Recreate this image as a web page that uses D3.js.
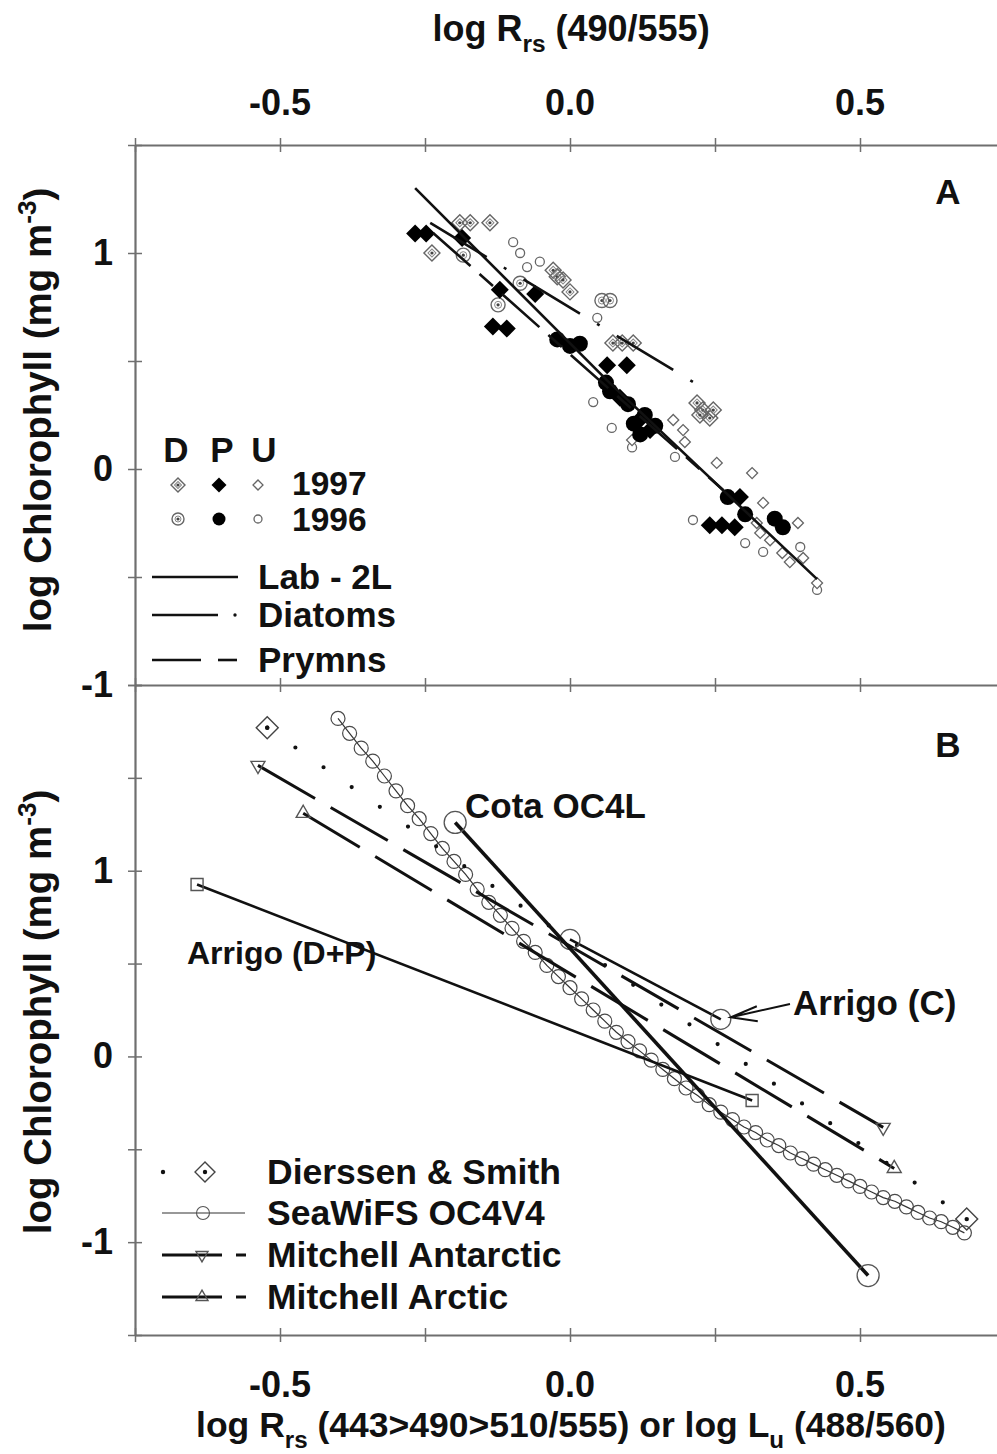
<!DOCTYPE html>
<html><head><meta charset="utf-8">
<script src="https://cdn.jsdelivr.net/npm/d3@7"></script>
<style>body{margin:0;background:#fff}svg{display:block}</style>
</head><body>
<script>
// ---------------- DATA ----------------
const xTickVals = [-0.75, -0.5, -0.25, 0, 0.25, 0.5, 0.75];
const xTickLabels = [-0.5, 0.0, 0.5];
const yTickValsA = [-1, -0.5, 0, 0.5, 1, 1.5];
const yTickValsB = [-1.5, -1, -0.5, 0, 0.5, 1, 1.5, 2];
const yTickLabels = [-1, 0, 1];

// Panel A scatter (x = log Rrs 490/555, y = log Chl)
const diatoms1997 = [[-0.238,1.00],[-0.190,1.14],[-0.172,1.14],[-0.138,1.14],[-0.029,0.92],[-0.022,0.89],[-0.012,0.875],[0.0,0.82],
  [0.074,0.583],[0.090,0.583],[0.109,0.583],[0.219,0.306],[0.229,0.273],[0.241,0.236],[0.224,0.25],[0.247,0.273]];
const diatoms1996 = [[-0.184,0.99],[-0.124,0.76],[-0.086,0.86],[0.055,0.78],[0.069,0.78]];
const prymns1997 = [[-0.267,1.09],[-0.248,1.09],[-0.186,1.07],[-0.121,0.83],[-0.133,0.66],[-0.109,0.65],[-0.060,0.81],
  [0.064,0.48],[0.098,0.48],[0.086,0.33],[0.121,0.23],[0.138,0.18],[0.241,-0.26],[0.262,-0.26],[0.284,-0.27],[0.293,-0.13]];
const prymns1996 = [[-0.022,0.60],[0.0,0.57],[0.017,0.58],[0.069,0.36],[0.100,0.30],[0.129,0.25],[0.121,0.16],[0.147,0.20],
  [0.272,-0.13],[0.302,-0.21],[0.353,-0.23],[0.367,-0.27],[0.062,0.40],[0.110,0.21]];
const undet1997 = [[0.107,0.134],[0.178,0.227],[0.195,0.18],[0.198,0.125],[0.253,0.028],[0.314,-0.019],[0.333,-0.157],
  [0.393,-0.25],[0.402,-0.412],[0.366,-0.389],[0.379,-0.431],[0.426,-0.528],[0.322,-0.25],[0.328,-0.296],[0.345,-0.33]];
const undet1996 = [[-0.098,1.05],[-0.086,1.00],[-0.074,0.935],[-0.052,0.96],[0.047,0.70],[0.040,0.31],[0.072,0.19],
  [0.107,0.10],[0.181,0.056],[0.212,-0.236],[0.302,-0.343],[0.333,-0.384],[0.397,-0.361],[0.426,-0.56]];

// Panel A fitted lines
const labLine = [[-0.267,1.30],[0.064,0.41],[0.426,-0.51]];
const diatomLine = [[-0.241,1.139],[0.241,0.356]];
const prymnLine = [[-0.236,1.093],[0.264,-0.097]];

// Panel B algorithms
const dierssenSmith = [[-0.522,1.77],[0.684,-0.876]];
const seawifsX = [-0.40,-0.38,-0.36,-0.34,-0.32,-0.30,-0.28,-0.26,-0.24,-0.22,-0.20,-0.18,-0.16,-0.14,-0.12,-0.10,-0.08,-0.06,-0.04,-0.02,
  0.00,0.02,0.04,0.06,0.08,0.10,0.12,0.14,0.16,0.18,0.20,0.22,0.24,0.26,0.28,0.30,0.32,0.34,0.36,0.38,
  0.40,0.42,0.44,0.46,0.48,0.50,0.52,0.54,0.56,0.58,0.60,0.62,0.64,0.66,0.68];
const seawifsY = [1.82,1.74,1.66,1.59,1.51,1.43,1.35,1.28,1.20,1.12,1.05,0.98,0.90,0.83,0.76,0.69,0.62,0.56,0.49,0.43,
  0.37,0.31,0.25,0.19,0.13,0.08,0.03,-0.02,-0.07,-0.12,-0.17,-0.21,-0.26,-0.30,-0.34,-0.38,-0.41,-0.45,-0.48,-0.52,
  -0.55,-0.58,-0.61,-0.64,-0.67,-0.70,-0.73,-0.76,-0.78,-0.81,-0.84,-0.87,-0.89,-0.92,-0.95];
const cotaOC4L = [[-0.198,1.26],[0.514,-1.18]];
const arrigoC = [[0.0,0.63],[0.26,0.20]];
const arrigoDP = [[-0.643,0.926],[0.314,-0.237]];
const mitchellAntarctic = [[-0.538,1.567],[0.540,-0.382]];
const mitchellArctic = [[-0.460,1.309],[0.559,-0.603]];

const legendYears = ["1997", "1996"];
const legendGroups = ["D", "P", "U"];
const legendLinesA = ["Lab - 2L", "Diatoms", "Prymns"];
const legendB = ["Dierssen & Smith", "SeaWiFS OC4V4", "Mitchell Antarctic", "Mitchell Arctic"];

// ---------------- SETUP ----------------
const W = 997, H = 1454;
const FONT = "'Liberation Sans', Arial, Helvetica, sans-serif";
const FS = 35;
const AX = '#6f6f6f';
const INK = '#111';
const svg = d3.select('body').append('svg').attr('width', W).attr('height', H);
svg.append('rect').attr('width', W).attr('height', H).attr('fill', '#fff');

const x = d3.scaleLinear().domain([-0.75, 0.75]).range([135, 1005]);
const yA = d3.scaleLinear().domain([-1, 1.5]).range([685, 145]);
const yB = d3.scaleLinear().domain([-1.5, 2]).range([1335, 685]);
const fmt = d3.formatLocale({decimal: '.', thousands: ',', grouping: [3], currency: ['', ''], minus: '-'});
const f1 = fmt.format('.1f'), f0 = fmt.format('d');

function txt(parent, px, py, parts, o = {}) {
  const size = o.size || FS, rot = o.rot || 0;
  const t = parent.append('text')
    .attr('transform', `translate(${px},${py}) rotate(${rot})`)
    .attr('text-anchor', o.anchor || 'start')
    .style('font-family', FONT).style('font-weight', 'bold').style('font-size', size + 'px')
    .attr('fill', INK);
  if (typeof parts === 'string') parts = [[parts, 'n']];
  let shift = 0;
  parts.forEach(([s, k]) => {
    const sp = t.append('tspan').text(s);
    const target = k === 'sub' ? 0.3 * size : k === 'sup' ? -0.4 * size : 0;
    if (target - shift !== 0) sp.attr('dy', target - shift);
    shift = target;
    if (k !== 'n') sp.style('font-size', (0.68 * size) + 'px');
  });
  return t;
}
const sym = (type, size) => d3.symbol().type(type).size(size)();

// ---------------- AXES ----------------
function xAxis(yPos, top) {
  const ax = (top ? d3.axisTop(x) : d3.axisBottom(x)).tickValues(xTickVals).tickFormat('').tickSizeOuter(0).tickSizeInner(7);
  const g = svg.append('g').attr('transform', `translate(0,${yPos})`).call(ax);
  g.selectAll('.tick line').attr('y1', -7).attr('y2', 7).attr('stroke', AX).attr('stroke-width', 1.5);
  g.select('.domain').attr('stroke', AX).attr('stroke-width', 2.2);
}
function yAxis(scale, vals) {
  const g = svg.append('g').attr('transform', `translate(${x(-0.75)},0)`)
    .call(d3.axisLeft(scale).tickValues(vals).tickFormat('').tickSizeOuter(0).tickSizeInner(7));
  g.selectAll('.tick line').attr('x1', -7).attr('x2', 7).attr('stroke', AX).attr('stroke-width', 1.5);
  g.select('.domain').attr('stroke', AX).attr('stroke-width', 2.2);
}
xAxis(yA.range()[1], true);
xAxis(yA.range()[0], false);
xAxis(yB.range()[0], false);
yAxis(yA, yTickValsA);
yAxis(yB, yTickValsB);

const gT = svg.append('g');
xTickLabels.forEach(v => {
  txt(gT, x(v), 115, f1(v), {anchor: 'middle', size: 36});
  txt(gT, x(v), 1397, f1(v), {anchor: 'middle', size: 36});
});
yTickLabels.forEach(v => {
  txt(gT, 113, yA(v) + 12, f0(v), {anchor: 'end', size: 36});
  txt(gT, 113, yB(v) + 12, f0(v), {anchor: 'end', size: 36});
});
txt(gT, 571, 41, [['log R', 'n'], ['rs', 'sub'], [' (490/555)', 'n']], {anchor: 'middle', size: 36});
txt(gT, 571, 1437, [['log R', 'n'], ['rs', 'sub'], [' (443>490>510/555) or log L', 'n'], ['u', 'sub'], [' (488/560)', 'n']], {anchor: 'middle', size: 35.5});
const yLab = [['log Chlorophyll (mg m', 'n'], ['-3', 'sup'], [')', 'n']];
txt(gT, 51, 410, yLab, {anchor: 'middle', rot: -90, size: 38.5});
txt(gT, 51, 1012, yLab, {anchor: 'middle', rot: -90, size: 38.5});
txt(gT, 948, 204, 'A', {anchor: 'middle'});
txt(gT, 948, 757, 'B', {anchor: 'middle'});

// ---------------- MARKER HELPERS ----------------
function dMark97(s, h) {
  s.append('path').attr('d', sym(d3.symbolSquare, 2 * h * h)).attr('transform', 'rotate(45)')
    .attr('fill', 'none').attr('stroke', '#666').attr('stroke-width', 1.4);
  s.append('path').attr('d', sym(d3.symbolSquare, 2 * (h * 0.5) ** 2)).attr('transform', 'rotate(45)')
    .attr('fill', 'none').attr('stroke', '#888').attr('stroke-width', 1);
  s.append('circle').attr('r', 1.6).attr('fill', '#444');
}
function dMark96(s, r) {
  s.append('circle').attr('r', r).attr('fill', 'none').attr('stroke', '#666').attr('stroke-width', 1.4);
  s.append('circle').attr('r', r * 0.5).attr('fill', 'none').attr('stroke', '#888').attr('stroke-width', 1);
  s.append('circle').attr('r', 1.6).attr('fill', '#444');
}
function pMark97(s, h) {
  s.append('path').attr('d', sym(d3.symbolSquare, 2 * h * h)).attr('transform', 'rotate(45)').attr('fill', '#000');
}
function pMark96(s, r) { s.append('circle').attr('r', r).attr('fill', '#000'); }
function uMark97(s, h) {
  s.append('path').attr('d', sym(d3.symbolSquare, 2 * h * h)).attr('transform', 'rotate(45)')
    .attr('fill', '#fff').attr('stroke', '#666').attr('stroke-width', 1.3);
}
function uMark96(s, r) {
  s.append('circle').attr('r', r).attr('fill', '#fff').attr('stroke', '#666').attr('stroke-width', 1.3);
}

// ---------------- PANEL A ----------------
const gA = svg.append('g');
function scatter(data, fn, size) {
  gA.append('g').selectAll('g').data(data).join('g')
    .attr('transform', d => `translate(${x(d[0])},${yA(d[1])})`)
    .each(function () { fn(d3.select(this), size); });
}
scatter(undet1996, uMark96, 4.5);
scatter(undet1997, uMark97, 5.5);
scatter(diatoms1997, dMark97, 8);
scatter(diatoms1996, dMark96, 7);
scatter(prymns1997, pMark97, 9);
scatter(prymns1996, pMark96, 8);

const lineA = d3.line().x(d => x(d[0])).y(d => yA(d[1]));
gA.append('path').attr('d', lineA(labLine)).attr('fill', 'none').attr('stroke', INK).attr('stroke-width', 2.6);
gA.append('path').attr('d', lineA(diatomLine)).attr('fill', 'none').attr('stroke', INK).attr('stroke-width', 2.6)
  .attr('stroke-dasharray', '66,20,3,20');
gA.append('path').attr('d', lineA(prymnLine)).attr('fill', 'none').attr('stroke', INK).attr('stroke-width', 2.6)
  .attr('stroke-dasharray', '50,12,18,12');

// Legend A
const gLA = svg.append('g');
const colX = [178, 219, 258];
legendGroups.forEach((g, i) => txt(gLA, colX[i] + (i === 0 ? -2 : 3 * i), 462, g, {anchor: 'middle'}));
const rowY = [485, 519];
[[dMark97, pMark97, uMark97], [dMark96, pMark96, uMark96]].forEach((fns, r) => {
  const sizes = r === 0 ? [7, 7.5, 5] : [6, 6.5, 4];
  fns.forEach((fn, c) => fn(gLA.append('g').attr('transform', `translate(${colX[c]},${rowY[r]})`), sizes[c]));
  txt(gLA, 292, r === 0 ? 495 : 531, legendYears[r], {size: 33.5});
});
const lyA = [577, 615, 660];
gLA.append('line').attr('x1', 152).attr('x2', 238).attr('y1', lyA[0]).attr('y2', lyA[0]).attr('stroke', INK).attr('stroke-width', 2.6);
gLA.append('line').attr('x1', 152).attr('x2', 218).attr('y1', lyA[1]).attr('y2', lyA[1]).attr('stroke', INK).attr('stroke-width', 2.6);
gLA.append('circle').attr('cx', 235).attr('cy', lyA[1]).attr('r', 1.7).attr('fill', INK);
gLA.append('line').attr('x1', 152).attr('x2', 201).attr('y1', lyA[2]).attr('y2', lyA[2]).attr('stroke', INK).attr('stroke-width', 2.6);
gLA.append('line').attr('x1', 218).attr('x2', 237).attr('y1', lyA[2]).attr('y2', lyA[2]).attr('stroke', INK).attr('stroke-width', 2.6);
legendLinesA.forEach((s, i) => txt(gLA, 258, lyA[i] + 12, s));

// ---------------- PANEL B ----------------
const gB = svg.append('g');
const lineB = d3.line().x(d => x(d[0])).y(d => yB(d[1]));
const seawifs = seawifsX.map((v, i) => [v, seawifsY[i]]);

function diamondB(s, h) {
  s.append('path').attr('d', sym(d3.symbolSquare, 2 * h * h)).attr('transform', 'rotate(45)')
    .attr('fill', 'none').attr('stroke', '#444').attr('stroke-width', 1.4);
  s.append('circle').attr('r', 2.2).attr('fill', INK);
}
function circleB(s, r, w) {
  s.append('circle').attr('r', r).attr('fill', 'none').attr('stroke', '#555').attr('stroke-width', w || 1.3);
}
function squareB(s, a) {
  s.append('path').attr('d', sym(d3.symbolSquare, a * a)).attr('fill', 'none').attr('stroke', '#555').attr('stroke-width', 1.4);
}
function triB(s, a, down) {
  s.append('path').attr('d', sym(d3.symbolTriangle, 0.433 * a * a)).attr('transform', down ? 'rotate(180)' : null)
    .attr('fill', 'none').attr('stroke', '#555').attr('stroke-width', 1.4);
}
const at = (d) => gB.append('g').attr('transform', `translate(${x(d[0])},${yB(d[1])})`);

// SeaWiFS OC4V4
gB.append('path').attr('d', lineB(seawifs)).attr('fill', 'none').attr('stroke', '#333').attr('stroke-width', 1.2);
gB.append('g').selectAll('circle').data(seawifs).join('circle')
  .attr('cx', d => x(d[0])).attr('cy', d => yB(d[1])).attr('r', 7)
  .attr('fill', 'none').attr('stroke', '#4a4a4a').attr('stroke-width', 1.2);

// Dierssen & Smith (dotted)
gB.append('path').attr('d', lineB(dierssenSmith)).attr('fill', 'none').attr('stroke', INK).attr('stroke-width', 4.2)
  .attr('stroke-linecap', 'round').attr('stroke-dasharray', '0,34.4');
dierssenSmith.forEach(d => diamondB(at(d), 11));

// Mitchell
gB.append('path').attr('d', lineB(mitchellAntarctic)).attr('fill', 'none').attr('stroke', INK).attr('stroke-width', 3)
  .attr('stroke-dasharray', '66,18');
mitchellAntarctic.forEach(d => triB(at(d), 14, true));
gB.append('path').attr('d', lineB(mitchellArctic)).attr('fill', 'none').attr('stroke', INK).attr('stroke-width', 3)
  .attr('stroke-dasharray', '66,18');
mitchellArctic.forEach(d => triB(at(d), 14, false));

// Arrigo D+P
gB.append('path').attr('d', lineB(arrigoDP)).attr('fill', 'none').attr('stroke', INK).attr('stroke-width', 2.6);
arrigoDP.forEach(d => squareB(at(d), 12));

// Arrigo C
gB.append('path').attr('d', lineB(arrigoC)).attr('fill', 'none').attr('stroke', INK).attr('stroke-width', 2.6);
arrigoC.forEach(d => circleB(at(d), 10));

// Cota OC4L
gB.append('path').attr('d', lineB(cotaOC4L)).attr('fill', 'none').attr('stroke', INK).attr('stroke-width', 3.6);
cotaOC4L.forEach(d => circleB(at(d), 11));

// Annotations
txt(gB, 465, 818, 'Cota OC4L');
txt(gB, 793, 1015, 'Arrigo (C)');
txt(gB, 187, 964, 'Arrigo (D+P)', {size: 32});
const tipX = x(arrigoC[1][0]) + 10, tipY = yB(arrigoC[1][1]) - 2;
gB.append('path').attr('d', `M790,1004 L${tipX},${tipY} M${tipX + 26},${tipY - 11} L${tipX},${tipY} L${tipX + 27},${tipY + 4}`)
  .attr('fill', 'none').attr('stroke', INK).attr('stroke-width', 2);

// Legend B
const gLB = svg.append('g');
const lyB = [1172, 1213, 1255, 1297];
gLB.append('circle').attr('cx', 163).attr('cy', lyB[0]).attr('r', 2.2).attr('fill', INK);
diamondB(gLB.append('g').attr('transform', `translate(205,${lyB[0]})`), 10);
gLB.append('line').attr('x1', 162).attr('x2', 245).attr('y1', lyB[1]).attr('y2', lyB[1]).attr('stroke', '#333').attr('stroke-width', 1.2);
circleB(gLB.append('g').attr('transform', `translate(203,${lyB[1]})`), 6.5, 1.1);
[[lyB[2], true], [lyB[3], false]].forEach(([yy, down]) => {
  gLB.append('line').attr('x1', 162).attr('x2', 222).attr('y1', yy).attr('y2', yy).attr('stroke', INK).attr('stroke-width', 3);
  gLB.append('line').attr('x1', 236).attr('x2', 246).attr('y1', yy).attr('y2', yy).attr('stroke', INK).attr('stroke-width', 3);
  triB(gLB.append('g').attr('transform', `translate(202,${yy})`), 12, down);
});
legendB.forEach((s, i) => txt(gLB, 267, lyB[i] + 12, s, {size: 35.5}));
</script>
</body></html>
